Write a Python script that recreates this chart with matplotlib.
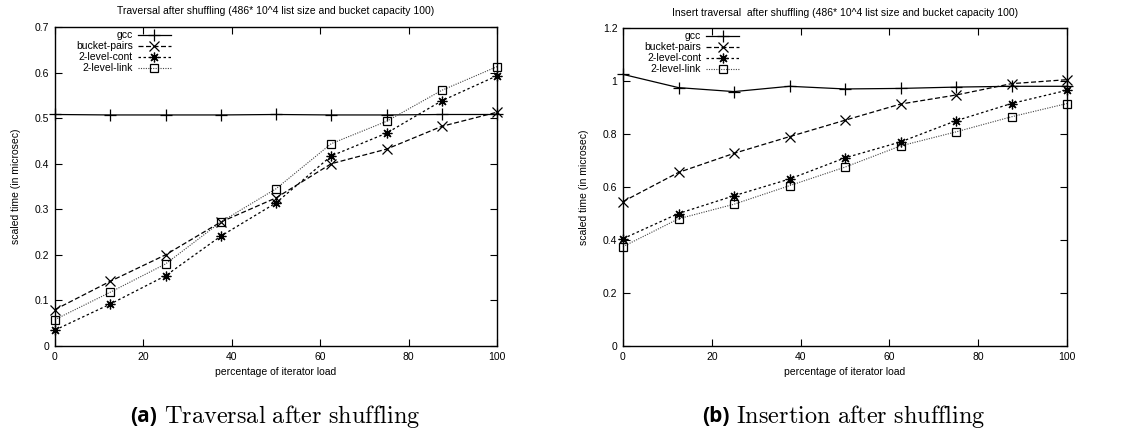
import matplotlib
matplotlib.use("Agg")
import matplotlib.pyplot as plt
from matplotlib.lines import Line2D

plt.rcParams['font.family'] = ['Liberation Sans', 'DejaVu Sans']
plt.rcParams['mathtext.fontset'] = 'cm'

x_load = [0, 12.5, 25, 37.5, 50, 62.5, 75, 87.5, 100]
series_names = ["gcc", "bucket-pairs", "2-level-cont", "2-level-link"]

trav_gcc = [0.508, 0.507, 0.507, 0.507, 0.508, 0.507, 0.507, 0.508, 0.508]
trav_bucket = [0.080, 0.142, 0.200, 0.272, 0.325, 0.400, 0.432, 0.482, 0.513]
trav_cont = [0.035, 0.092, 0.154, 0.241, 0.314, 0.417, 0.467, 0.538, 0.593]
trav_link = [0.058, 0.118, 0.180, 0.272, 0.345, 0.444, 0.493, 0.561, 0.613]

ins_gcc = [1.025, 0.975, 0.960, 0.980, 0.970, 0.972, 0.977, 0.980, 0.980]
ins_bucket = [0.545, 0.655, 0.727, 0.790, 0.852, 0.913, 0.947, 0.990, 1.005]
ins_cont = [0.405, 0.500, 0.567, 0.630, 0.710, 0.770, 0.850, 0.915, 0.965]
ins_link = [0.375, 0.480, 0.535, 0.605, 0.675, 0.755, 0.808, 0.865, 0.915]

titles = ["Traversal after shuffling (486* 10^4 list size and bucket capacity 100)",
          "Insert traversal  after shuffling (486* 10^4 list size and bucket capacity 100)"]
captions = [("(a)", "Traversal after shuffling"), ("(b)", "Insertion after shuffling")]
xlabel = "percentage of iterator load"
ylabel = "scaled time (in microsec)"

styles = [
    dict(color="black", ls="-", marker="+", ms=8, mew=0.9, lw=0.9),
    dict(color="black", ls=(0, (4, 2)), marker="x", ms=7, mew=0.9, lw=0.9),
    dict(color="black", ls=(0, (2, 2)), marker=(8, 2, 0), ms=7, mew=0.9, lw=0.9),
    dict(color="#444444", ls=(0, (1, 1.2)), marker="s", ms=6, mew=0.9, lw=0.8,
         mfc="none", mec="black"),
]

W, H = 1121, 432
fig = plt.figure(figsize=(W / 100, H / 100), dpi=100)

def ax_rect(x0, x1, y0, y1):
    return [x0 / W, 1 - y1 / H, (x1 - x0) / W, (y1 - y0) / H]

axes = [fig.add_axes(ax_rect(55, 497, 27, 346)),
        fig.add_axes(ax_rect(623, 1067, 28, 346))]
data = [[trav_gcc, trav_bucket, trav_cont, trav_link],
        [ins_gcc, ins_bucket, ins_cont, ins_link]]
ylims = [(0, 0.7), (0, 1.2)]
yticks = [[0, 0.1, 0.2, 0.3, 0.4, 0.5, 0.6, 0.7], [0, 0.2, 0.4, 0.6, 0.8, 1.0, 1.2]]
ytlabels = [["0", "0.1", "0.2", "0.3", "0.4", "0.5", "0.6", "0.7"],
            ["0", "0.2", "0.4", "0.6", "0.8", "1", "1.2"]]

for ax, ser, yl, yt, ytl, title in zip(axes, data, ylims, yticks, ytlabels, titles):
    for vals, st in zip(ser, styles):
        ax.plot(x_load, vals, clip_on=False, **st)
    ax.set_xlim(0, 100)
    ax.set_ylim(*yl)
    ax.set_xticks([0, 20, 40, 60, 80, 100])
    ax.set_yticks(yt)
    ax.set_yticklabels(ytl)
    ax.tick_params(direction="in", length=5, width=0.8, labelsize=7.5,
                   top=True, right=True, pad=4)
    for sp in ax.spines.values():
        sp.set_linewidth(1.0)
    ax.set_title(title, fontsize=7.5, pad=9)
    ax.set_xlabel(xlabel, fontsize=7.5, labelpad=4)
    ax.set_ylabel(ylabel, fontsize=7.5, labelpad=10)
    # gnuplot-style key
    rows = [0.975, 0.940, 0.906, 0.871]
    for name, st, ry in zip(series_names, styles, rows):
        ax.text(0.176, ry, name, transform=ax.transAxes, ha="right", va="center",
                fontsize=7.5)
        ax.add_line(Line2D([0.188, 0.262], [ry, ry], transform=ax.transAxes,
                           color=st["color"], ls=st["ls"], lw=st["lw"]))
        mkw = {k: v for k, v in st.items() if k in ("marker", "ms", "mew", "mfc", "mec", "color")}
        ax.add_line(Line2D([0.225], [ry], transform=ax.transAxes, ls="none", **mkw))

cap_x = [130 / W, 702 / W]
for (lab, txt), cx in zip(captions, cap_x):
    t1 = fig.text(cx, 1 - 422 / H, lab, fontsize=15, fontweight="bold",
                  family=["Open Sans", "DejaVu Sans"], ha="left", va="baseline")
    fig.axes[0].annotate(r"$\mathrm{" + txt.replace(" ", r"\ ") + "}$",
                         xy=(1, 0), xycoords=t1, xytext=(5, -2.5),
                         textcoords="offset points", fontsize=17.5,
                         ha="left", va="bottom", annotation_clip=False)

fig.savefig("out.png", dpi=100)
